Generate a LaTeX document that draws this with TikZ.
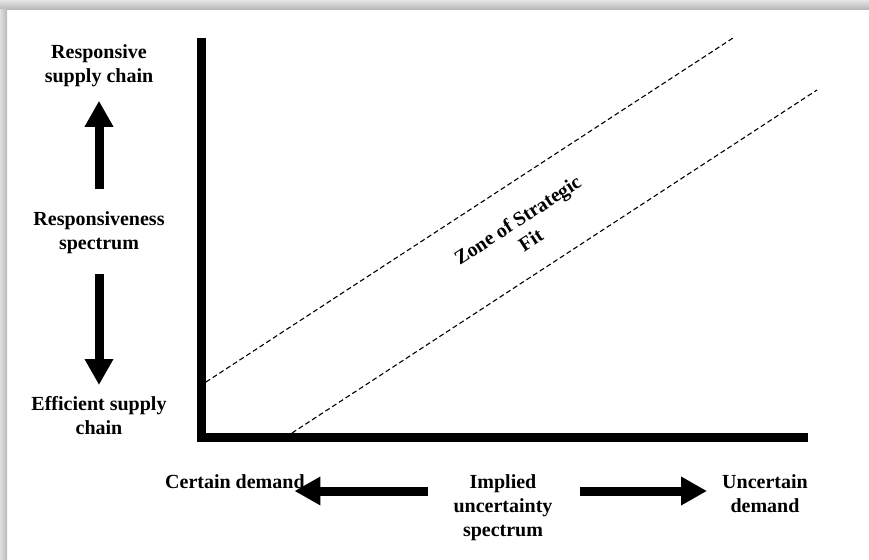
\documentclass[tikz,border=0pt]{standalone}
\usepackage{fontspec}
\setmainfont{Liberation Serif}
\usetikzlibrary{arrows.meta}

\begin{document}
\begin{tikzpicture}[x=1pt,y=-1pt,
    lbl/.style ={font=\fontsize{20}{24}\selectfont\bfseries, align=center, inner sep=0pt},
    bigarrow/.style ={line width=9pt, -{Triangle[width=27pt,length=26pt]}},
    zone/.style ={dash pattern=on 5pt off 3pt, line width=1.1pt}]
   \useasboundingbox (0,0) rectangle (869,559);
   \shade[top color=gray!20, bottom color=gray!60] (0,0) rectangle (869,10);
   \shade[left color=gray!25, right color=gray!55] (0,10) rectangle (7,559);

   \node[lbl,anchor=north] (resp)  at (99,44.5)  {Responsive\\supply chain};
   \node[lbl,anchor=north] (spec)  at (99,211.5)  {Responsiveness\\spectrum};
   \node[lbl,anchor=north] (eff)  at (99,396.5)  {Efficient supply\\chain};
   \node[lbl,anchor=north west] (certain)  at (165,474.5)  {Certain demand};
   \node[lbl,anchor=north] (implied)  at (503,474.5)  {Implied\\uncertainty\\spectrum};
   \node[lbl,anchor=north] (uncertain)  at (765,474.5)  {Uncertain\\demand};
   \node[lbl,rotate=33.1] (fit)  at (524,230)  {Zone of Strategic\\Fit};

   \coordinate (ytop) at (201,38);
   \coordinate (origin) at (201,437.5);
   \coordinate (xend) at (808,437.5);
   \coordinate (hrow) at (0,491);
   \coordinate (u0) at (206,382);
   \coordinate (u1) at (733,38);
   \coordinate (l0) at (292,433);
   \coordinate (l1) at (817,90);

   \draw[line width=9pt] (ytop) -- (origin) -- (xend);
   \draw[zone] (u0) -- (u1);
   \draw[zone] (l0) -- (l1);

   \draw[bigarrow,shorten <=22.5pt,shorten >=13.7pt] (spec.north) to (resp.south);
   \draw[bigarrow,shorten <=19.7pt,shorten >=11.5pt] (spec.south) to (eff.north);
   \draw[bigarrow,shorten <=25pt,shorten >=-10.4pt] (implied.west |- hrow) to (certain.east |- hrow);
   \draw[bigarrow,shorten <=27pt,shorten >=15pt] (implied.east |- hrow) to (uncertain.west |- hrow);
 \end{tikzpicture}
\end{document}
